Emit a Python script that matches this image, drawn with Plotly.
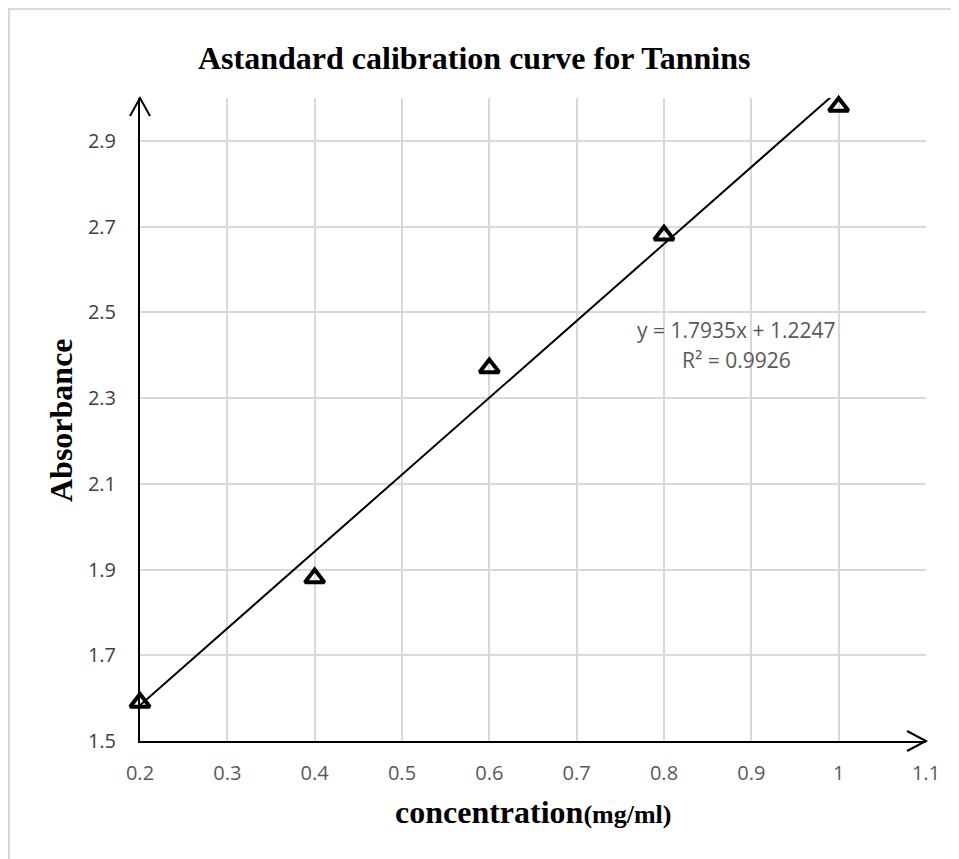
import numpy as np
import plotly.graph_objects as go

# ---- data ----
concentration = [0.2, 0.4, 0.6, 0.8, 1.0]
absorbance = [1.59, 1.88, 2.37, 2.68, 2.98]
slope = 1.7935
intercept = 1.2247
r_squared = 0.9926
title_text = "Astandard calibration curve for Tannins"
x_title = "concentration"
x_unit = "(mg/ml)"
y_title = "Absorbance"

# ---- layout geometry (screen pixels; page body has 8px offset) ----
SW, SH = 959, 859
OFF = 8
W, H = SW - OFF, SH - OFF
L, R, T, B = 140, 926, 98, 741


def px(x):
    return (x - L) / (R - L)


def py(y):
    return (B - y) / (B - T)


fit_x = np.array([concentration[0], concentration[-1]])
fit_y = slope * fit_x + intercept

fig = go.Figure()
fig.add_trace(go.Scatter(
    x=fit_x, y=fit_y, mode="lines",
    line=dict(color="black", width=2), showlegend=False, hoverinfo="skip"))
fig.add_trace(go.Scatter(
    x=concentration, y=absorbance, mode="markers",
    marker=dict(symbol="triangle-up-open", size=17, color="black",
                line=dict(width=4, color="black")),
    cliponaxis=False, showlegend=False))

grid = "#d9d9d9"
fig.update_layout(
    width=W, height=H,
    margin=dict(l=L - OFF, r=SW - R, t=T - OFF, b=SH - B),
    paper_bgcolor="white", plot_bgcolor="white",
    showlegend=False,
    xaxis=dict(range=[0.2, 1.1], tick0=0.2, dtick=0.1, showgrid=True,
               gridcolor=grid, gridwidth=1.5, zeroline=False,
               showline=True, linecolor="black", linewidth=2,
               ticks="", ticklabelstandoff=13,
               tickfont=dict(family="Open Sans", size=20, color="#595959")),
    yaxis=dict(range=[1.5, 3.0], tick0=1.5, dtick=0.2, showgrid=True,
               gridcolor=grid, gridwidth=1.5, zeroline=False,
               showline=True, linecolor="black", linewidth=2,
               ticks="", ticklabelstandoff=18,
               tickfont=dict(family="Open Sans", size=20, color="#404040")),
)

# title
fig.add_annotation(text="<b>" + title_text + "</b>", xref="paper", yref="paper",
                   x=px(474), y=py(58), showarrow=False, xanchor="center", yanchor="middle",
                   font=dict(family="Liberation Serif", size=32, color="black"))
# axis titles
fig.add_annotation(text="<b>" + x_title + "</b><b><span style='font-size:26px'>" + x_unit + "</span></b>",
                   xref="paper", yref="paper", x=px(533), y=py(812), showarrow=False,
                   xanchor="center", yanchor="middle",
                   font=dict(family="Liberation Serif", size=32, color="black"))
fig.add_annotation(text="<b>" + y_title + "</b>", xref="paper", yref="paper",
                   x=px(61), y=py(420), showarrow=False, textangle=-90,
                   xanchor="center", yanchor="middle",
                   font=dict(family="Liberation Serif", size=32, color="black"))
# equation
fig.add_annotation(text=f"y = {slope}x + {intercept}", xref="paper", yref="paper",
                   x=px(736), y=py(330), showarrow=False, xanchor="center", yanchor="middle",
                   font=dict(family="Open Sans", size=21, color="#595959"))
fig.add_annotation(text=f"R² = {r_squared}", xref="paper", yref="paper",
                   x=px(736), y=py(360), showarrow=False, xanchor="center", yanchor="middle",
                   font=dict(family="Open Sans", size=21, color="#595959"))

# axis arrowheads
fig.add_shape(type="path", xref="paper", yref="paper",
              path=f"M{px(L-10)},{py(T+18)} L{px(L)},{py(T)} L{px(L+10)},{py(T+18)}",
              line=dict(color="black", width=2))
fig.add_shape(type="path", xref="paper", yref="paper",
              path=f"M{px(R-19)},{py(B-10)} L{px(R)},{py(B)} L{px(R-19)},{py(B+10)}",
              line=dict(color="black", width=2))
# outer frame: only the left and top edges are visible in the reference
fig.add_shape(type="path", xref="paper", yref="paper", layer="below",
              path=f"M{px(9)},{py(SH + 20)} L{px(9)},{py(9)} L{px(SW + 20)},{py(9)}",
              line=dict(color="#d9d9d9", width=2))

fig.write_html("out.html")
